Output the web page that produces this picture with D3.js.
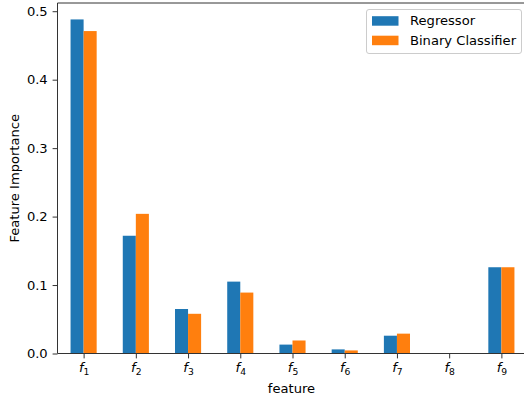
<!DOCTYPE html>
<html><head><meta charset="utf-8">
<script src="https://cdn.jsdelivr.net/npm/d3@7"></script>
<style>
body{margin:0;background:#fff;}
text{font-family:"DejaVu Sans",sans-serif;fill:#000;}
</style></head>
<body><svg id="c" width="524" height="397"></svg>
<script>
const categories = ["1","2","3","4","5","6","7","8","9"];
const regressor = [0.488, 0.172, 0.065, 0.105, 0.013, 0.006, 0.026, 0.0, 0.126];
const classifier = [0.471, 0.204, 0.058, 0.089, 0.019, 0.0045, 0.029, 0.0, 0.126];
const seriesNames = ["Regressor", "Binary Classifier"];
const colors = ["#1f77b4", "#ff7f0e"];
const yTicks = [0.0, 0.1, 0.2, 0.3, 0.4, 0.5];

(function(){
const svg = d3.select("#c");
const FS = "13.1px";
const mL = 57.5, mR = 527.5, mT = 3, mB = 353.5;
const x = d3.scaleLinear().domain([-0.5, categories.length - 0.5]).range([mL, mR]);
const y = d3.scaleLinear().domain([0, 0.512]).range([mB, mT]);
const bw = 0.25;

const series = [regressor, classifier];
series.forEach((vals, s) => {
  svg.append("g").selectAll("rect").data(vals).join("rect")
    .attr("x", (d, i) => x(i - bw + s * bw))
    .attr("width", x(bw) - x(0))
    .attr("y", d => y(d))
    .attr("height", d => y(0) - y(d))
    .attr("fill", colors[s]);
});

// y axis
const yAxis = d3.axisLeft(y).tickValues(yTicks).tickFormat(d3.format(".1f")).tickSize(4.9).tickPadding(4.9);
const gy = svg.append("g").attr("transform", `translate(${mL},0)`).call(yAxis);
gy.select(".domain").remove();
gy.selectAll("line").attr("stroke", "#333").attr("stroke-width", 1);
gy.selectAll("text").style("font-size", FS).attr("fill", "#000").style("font-family", "DejaVu Sans");

// x axis
const xAxis = d3.axisBottom(x).tickValues(d3.range(categories.length)).tickFormat("").tickSize(4.9);
const gx = svg.append("g").attr("transform", `translate(0,${mB})`).call(xAxis);
gx.select(".domain").remove();
gx.selectAll("line").attr("stroke", "#333").attr("stroke-width", 1);
gx.selectAll(".tick").append("text")
  .attr("y", 18.5).attr("text-anchor", "middle").attr("fill", "#000")
  .style("font-size", FS).style("font-family", "DejaVu Sans")
  .each(function(d) {
    const t = d3.select(this);
    t.append("tspan").style("font-style", "italic").text("f");
    t.append("tspan").attr("dy", 3).style("font-size", "9.2px").text(categories[d]);
  });

// spines
svg.append("line").attr("x1", mL).attr("x2", mL).attr("y1", mT).attr("y2", mB).attr("stroke", "#333");
svg.append("line").attr("x1", mL).attr("x2", mR).attr("y1", mB).attr("y2", mB).attr("stroke", "#333");
svg.append("line").attr("x1", mL).attr("x2", mR).attr("y1", mT).attr("y2", mT).attr("stroke", "#333");
svg.append("line").attr("x1", mR).attr("x2", mR).attr("y1", mT).attr("y2", mB).attr("stroke", "#333");

// labels
svg.append("text").attr("x", (mL + mR) / 2 - 1).attr("y", 393).attr("text-anchor", "middle")
  .style("font-size", FS).text("feature");
svg.append("text").attr("transform", `translate(18.5,${(mT + mB) / 2}) rotate(-90)`)
  .attr("text-anchor", "middle").style("font-size", FS).text("Feature Importance");

// legend
const lg = svg.append("g");
lg.append("rect").attr("x", 366.5).attr("y", 9.5).attr("width", 155).attr("height", 44)
  .attr("rx", 2.5).attr("fill", "#fff").attr("fill-opacity", 0.8).attr("stroke", "#ccc");
seriesNames.forEach((n, i) => {
  const cy = 20.7 + i * 19.5;
  lg.append("rect").attr("x", 372).attr("y", cy - 4.5).attr("width", 26.5).attr("height", 9.5).attr("fill", colors[i]);
  lg.append("text").attr("x", 410).attr("y", cy + 4.7).style("font-size", FS).text(n);
});
})();
</script></body></html>
